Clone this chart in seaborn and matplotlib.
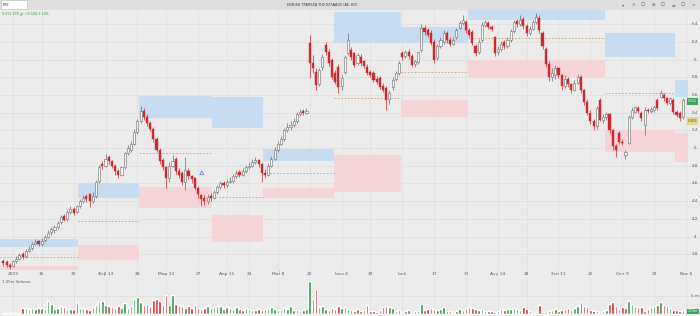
import numpy as np
import pandas as pd
import matplotlib
matplotlib.use("Agg")
import matplotlib.pyplot as plt
import matplotlib.transforms as mtransforms
from matplotlib.patches import Rectangle
import seaborn as sns

# ---------------- data ----------------
first_index = -3  # a few candles of late Dec 2022 before 2 Jan 2023

open_ = [
    3.72,3.71,3.68,3.67,3.72,3.75,3.80,3.78,3.84,3.87,
    3.92,3.95,3.91,3.96,4.00,4.05,4.07,4.11,4.16,4.23,
    4.20,4.28,4.31,4.28,4.34,4.40,4.46,4.48,4.40,4.46,
    4.63,4.82,4.80,4.90,4.85,4.80,4.74,4.70,4.78,4.94,
    4.98,5.05,5.18,5.30,5.42,5.35,5.28,5.22,5.10,4.98,
    4.86,4.78,4.66,4.80,4.88,4.74,4.72,4.62,4.74,4.68,
    4.66,4.55,4.47,4.43,4.40,4.46,4.44,4.50,4.56,4.61,
    4.58,4.62,4.63,4.68,4.73,4.70,4.74,4.78,4.80,4.84,
    4.87,4.82,4.72,4.70,4.80,4.88,4.98,5.05,5.10,5.20,
    5.24,5.26,5.30,5.38,5.42,5.40,6.19,5.96,5.86,5.72,
    5.92,6.16,6.08,5.99,5.85,5.92,5.70,5.86,6.07,6.11,
    6.07,5.96,6.03,5.98,5.92,5.86,5.85,5.78,5.79,5.70,
    5.68,5.55,5.69,5.78,5.85,6.07,6.04,6.09,6.04,5.95,
    5.97,6.11,6.36,6.33,6.30,6.20,6.02,6.15,6.20,6.30,
    6.22,6.18,6.25,6.36,6.41,6.42,6.33,6.31,6.15,6.08,
    6.22,6.39,6.41,6.37,6.25,6.08,6.12,6.20,6.15,6.22,
    6.32,6.43,6.40,6.46,6.38,6.30,6.35,6.42,6.47,6.30,
    6.12,5.95,5.80,5.82,5.90,5.82,5.70,5.78,5.72,5.66,
    5.74,5.80,5.65,5.52,5.40,5.30,5.25,5.54,5.32,5.35,
    5.38,5.20,5.02,5.17,5.07,4.92,5.06,5.35,5.41,5.45,
    5.40,5.26,5.43,5.42,5.43,5.54,5.58,5.60,5.56,5.51,
    5.54,5.41,5.40,5.35,
]
high_ = [
    3.75,3.73,3.70,3.74,3.78,3.81,3.82,3.86,3.89,3.94,
    3.97,3.96,3.98,4.02,4.07,4.11,4.13,4.18,4.24,4.25,
    4.30,4.34,4.33,4.36,4.42,4.47,4.48,4.49,4.50,4.64,
    4.81,4.85,4.93,4.92,4.87,4.82,4.76,4.80,4.96,5.03,
    5.08,5.21,5.33,5.48,5.45,5.38,5.31,5.24,5.12,5.00,
    4.89,4.80,4.84,4.92,4.90,4.77,4.74,4.90,4.77,4.70,
    4.67,4.57,4.48,4.47,4.48,4.49,4.53,4.58,4.63,4.63,
    4.65,4.67,4.71,4.75,4.75,4.77,4.81,4.84,4.88,4.90,
    4.88,4.83,4.76,4.83,4.91,5.01,5.08,5.14,5.23,5.28,
    5.30,5.34,5.41,5.44,5.44,5.45,6.28,6.05,5.90,5.90,
    6.06,6.20,6.12,6.02,5.88,5.95,5.82,6.05,6.30,6.14,
    6.09,6.07,6.06,6.00,5.95,5.88,5.87,5.81,5.81,5.73,
    5.70,5.65,5.80,5.87,5.98,6.10,6.11,6.12,6.06,6.00,
    6.10,6.40,6.39,6.36,6.33,6.23,6.18,6.25,6.33,6.32,
    6.25,6.25,6.36,6.44,6.50,6.45,6.36,6.33,6.18,6.23,
    6.42,6.45,6.43,6.39,6.27,6.15,6.21,6.22,6.25,6.35,
    6.45,6.46,6.50,6.48,6.40,6.38,6.45,6.52,6.50,6.32,
    6.14,5.98,5.90,5.94,5.92,5.84,5.82,5.80,5.74,5.77,
    5.84,5.82,5.67,5.55,5.43,5.33,5.48,5.57,5.38,5.41,
    5.40,5.22,5.05,5.19,5.10,4.98,5.37,5.46,5.48,5.47,
    5.42,5.46,5.45,5.46,5.48,5.57,5.65,5.62,5.58,5.58,
    5.56,5.43,5.42,5.57,
]
low_ = [
    3.67,3.65,3.63,3.65,3.70,3.73,3.75,3.76,3.82,3.85,
    3.90,3.89,3.89,3.94,3.98,4.02,4.04,4.09,4.14,4.17,
    4.18,4.25,4.24,4.26,4.32,4.38,4.39,4.33,4.38,4.44,
    4.60,4.76,4.78,4.82,4.77,4.70,4.66,4.68,4.76,4.92,
    4.95,5.03,5.16,5.28,5.32,5.25,5.19,5.07,4.95,4.82,
    4.75,4.55,4.62,4.78,4.71,4.66,4.58,4.52,4.65,4.60,
    4.52,4.44,4.35,4.36,4.37,4.40,4.42,4.48,4.54,4.55,
    4.56,4.60,4.61,4.66,4.67,4.68,4.72,4.76,4.78,4.82,
    4.79,4.62,4.66,4.68,4.78,4.86,4.96,5.03,5.08,5.18,
    5.20,5.24,5.28,5.36,5.37,5.38,5.79,5.85,5.66,5.70,
    5.88,6.05,5.93,5.78,5.72,5.62,5.66,5.84,6.05,6.00,
    5.91,5.94,5.93,5.90,5.83,5.80,5.75,5.72,5.67,5.63,
    5.43,5.50,5.66,5.76,5.83,6.00,6.02,6.01,5.91,5.92,
    5.95,6.09,6.28,6.25,6.16,5.96,6.00,6.13,6.18,6.19,
    6.15,6.16,6.23,6.34,6.39,6.30,6.25,6.16,6.04,6.06,
    6.20,6.37,6.34,6.32,6.04,6.05,6.10,6.12,6.13,6.20,
    6.30,6.37,6.38,6.35,6.27,6.28,6.33,6.40,6.30,6.12,
    5.92,5.76,5.76,5.78,5.79,5.66,5.68,5.69,5.62,5.64,
    5.72,5.62,5.49,5.37,5.27,5.20,5.22,5.30,5.28,5.32,
    5.17,4.98,4.90,5.04,5.03,4.88,5.04,5.33,5.39,5.39,
    5.31,5.15,5.39,5.40,5.41,5.43,5.56,5.53,5.49,5.49,
    5.38,5.35,5.31,5.33,
]
close_ = [
    3.70,3.68,3.66,3.72,3.75,3.79,3.77,3.84,3.86,3.92,
    3.94,3.91,3.95,4.00,4.04,4.08,4.11,4.15,4.22,4.19,
    4.28,4.31,4.27,4.34,4.40,4.44,4.42,4.40,4.46,4.62,
    4.78,4.80,4.88,4.85,4.80,4.74,4.70,4.78,4.94,5.00,
    5.05,5.18,5.30,5.42,5.35,5.28,5.22,5.10,4.98,4.85,
    4.78,4.66,4.80,4.85,4.74,4.70,4.62,4.75,4.68,4.65,
    4.55,4.48,4.42,4.40,4.45,4.44,4.50,4.56,4.60,4.58,
    4.62,4.63,4.68,4.72,4.70,4.74,4.78,4.80,4.84,4.86,
    4.82,4.72,4.70,4.80,4.88,4.98,5.05,5.10,5.20,5.24,
    5.26,5.30,5.38,5.41,5.40,5.42,5.96,5.90,5.71,5.88,
    6.03,6.08,5.96,5.80,5.75,5.69,5.79,6.03,6.22,6.03,
    5.94,6.05,5.96,5.93,5.85,5.83,5.77,5.75,5.69,5.66,
    5.54,5.62,5.77,5.85,5.96,6.03,6.08,6.04,5.94,5.98,
    6.08,6.36,6.31,6.28,6.19,5.99,6.15,6.22,6.30,6.22,
    6.18,6.22,6.33,6.41,6.45,6.33,6.28,6.19,6.07,6.20,
    6.39,6.42,6.37,6.35,6.07,6.12,6.18,6.15,6.22,6.32,
    6.42,6.40,6.45,6.38,6.30,6.35,6.42,6.48,6.33,6.15,
    5.95,5.80,5.85,5.90,5.82,5.70,5.78,5.72,5.66,5.74,
    5.80,5.65,5.52,5.40,5.30,5.25,5.45,5.32,5.35,5.38,
    5.20,5.02,4.98,5.07,5.06,4.95,5.35,5.43,5.46,5.42,
    5.34,5.43,5.42,5.44,5.46,5.45,5.62,5.56,5.51,5.56,
    5.41,5.37,5.34,5.54,
]
volume_m = [
    0.2,0.3,0.2,0.5,0.3,0.4,1.6,1.8,1.5,1.7,
    1.4,1.6,1.8,1.5,3.7,2.8,1.4,1.8,2.2,2.0,
    1.2,1.5,1.3,3.2,1.6,1.8,1.4,1.2,2.0,2.5,
    3.4,3.6,2.4,2.2,2.0,1.7,2.2,1.6,3.0,1.8,
    2.2,4.2,4.6,3.2,2.5,2.8,2.2,3.8,4.2,3.6,
    2.4,5.2,2.4,5.2,2.8,2.4,2.2,1.8,2.2,1.6,
    2.4,1.8,1.4,1.8,2.2,1.6,2.0,2.3,2.2,1.4,
    2.0,1.7,1.5,1.9,1.4,1.2,1.6,1.3,1.1,1.2,
    1.5,1.0,1.4,1.8,2.0,1.4,1.2,1.0,1.6,1.4,
    2.2,1.2,1.0,0.8,1.2,1.4,9.2,4.2,6.9,2.0,
    2.2,1.4,1.2,1.8,1.4,2.2,1.6,2.0,1.5,1.1,
    0.8,1.4,0.9,1.0,2.6,0.8,0.9,0.6,1.1,2.0,
    2.3,2.0,1.7,0.9,1.1,0.6,0.8,1.1,0.6,0.7,
    0.8,2.8,1.1,1.4,1.7,1.4,1.1,1.4,1.9,0.9,
    0.7,0.6,0.9,1.4,1.1,1.7,1.9,1.7,1.4,1.1,
    1.4,0.9,0.7,0.9,0.6,0.7,1.4,1.1,1.4,1.3,
    1.7,1.4,1.1,1.9,1.4,0.7,0.6,0.5,2.6,0.6,
    0.5,0.7,1.1,1.4,0.9,1.1,1.4,1.7,1.1,1.7,
    2.3,3.2,2.3,1.9,1.1,0.9,0.7,0.6,0.9,1.1,
    2.8,3.2,2.3,1.4,1.9,1.6,3.7,2.8,2.3,2.0,
    1.9,0.9,1.4,1.9,2.3,2.6,3.2,2.6,2.3,1.7,
    1.1,1.1,0.9,1.1,
]

tick_index = [0, 9, 19, 29, 39, 48, 58, 67, 74, 83, 93, 103, 112, 122,
              132, 142, 152, 161, 171, 181, 191, 201, 211]
tick_labels = ["2023", "16", "30", "Φεβ 13", "28", "Μαρ 13", "27", "Απρ 11",
               "24", "Μαΐ 8", "22", "Ιουν 6", "19", "Ιουλ", "17", "31",
               "Αυγ 14", "28", "Σεπ 11", "25", "Οκτ 9", "23", "Νοε 6"]

price_ticks = [3.8, 4.0, 4.2, 4.4, 4.6, 4.8, 5.0, 5.2, 5.4, 5.6, 5.8, 6.0, 6.2, 6.4]

# monthly zones (start/end in candle index, price bounds)
zone_start = [-4.2, 20.5, 39.5, 62.5, 78.5, 100.5, 121.5, 142.5, 164.5, 185.5, 207.5]
zone_end = [20.5, 39.5, 62.5, 78.5, 100.5, 121.5, 142.5, 164.5, 185.5, 207.5, 211.6]
blue_low = [3.88, 4.44, 5.34, 5.23, 4.85, 6.19, 6.19, 6.45, 6.45, 6.03, 5.58]
blue_high = [3.97, 4.60, 5.59, 5.58, 4.99, 6.54, 6.37, 6.57, 6.57, 6.30, 5.77]
pink_low = [3.60, 3.73, 4.32, 3.94, 4.44, 4.50, 5.35, 5.80, 5.80, 4.95, 4.84]
pink_high = [3.67, 3.90, 4.56, 4.24, 4.55, 4.92, 5.54, 5.99, 5.99, 5.20, 5.17]
mid_level = [3.77, 4.175, 4.94, 4.45, 4.72, 5.56, 5.86, 6.24, 6.24, 5.62, np.nan]

last_price_label = "5.552"
ma_label = "5.305"
ma_value = 5.305
last_value = 5.53

# ---------------- styling ----------------
sns.set_theme(style="white")
plt.rcParams["font.family"] = ["DejaVu Sans"]

BG = "#ebebeb"
GRID = "#dedede"
RED = "#d3272b"
GREEN = "#2e9b3f"
TXT = "#5a5a5a"

W, H = 700, 316
fig = plt.figure(figsize=(7, 3.16), dpi=100, facecolor=BG)
px = 13.0      # pixel x of index 0
step = 3.19    # pixels per candle
x0 = -px / step
x1 = (W - px) / step

ax = fig.add_axes([0, 46 / H, 1, 260 / H])
axv = fig.add_axes([0, 0, 1, 38 / H])
for a in (ax, axv):
    a.set_facecolor(BG)
    for s in a.spines.values():
        s.set_visible(False)

o = np.array(open_); h = np.array(high_); l = np.array(low_); c = np.array(close_)
n = len(c)
assert len(o) == n and len(h) == n and len(l) == n and len(volume_m) == n
idx = np.arange(first_index, first_index + n)

# zones
for s, e, bl, bh, pl, ph, m in zip(zone_start, zone_end, blue_low, blue_high,
                                    pink_low, pink_high, mid_level):
    ax.add_patch(Rectangle((s, bl), e - s, bh - bl, facecolor="#c8dcf1",
                           edgecolor="none", zorder=1))
    ax.add_patch(Rectangle((s, pl), e - s, ph - pl, facecolor="#f4d4d7",
                           edgecolor="none", zorder=1))
    if not np.isnan(m):
        ax.plot([s, e], [m, m], color="#c4a46a", lw=0.6, ls=(0, (2, 2)), zorder=2)

# candles
up = c >= o
body_lo = np.minimum(o, c)
body_h = np.maximum(np.abs(c - o), 0.006)
wick_col = np.where(up, "#6a6a6a", RED)
ax.vlines(idx, l, h, colors=wick_col, lw=0.5, zorder=3)
ax.bar(idx[up], body_h[up], bottom=body_lo[up], width=0.66, color="#f7f7f7",
       edgecolor="#6a6a6a", linewidth=0.4, zorder=4)
ax.bar(idx[~up], body_h[~up], bottom=body_lo[~up], width=0.66, color=RED,
       edgecolor=RED, linewidth=0.3, zorder=4)

# small triangle marker
sns.scatterplot(x=[59.2], y=[4.72], marker="^", s=8, facecolor="none",
                edgecolor="#4a7fd0", linewidth=0.5, ax=ax, zorder=5)

ax.set_xlim(x0, x1)
ax.set_ylim(5 - 122 / 88.5, 5 + 138 / 88.5)
ax.set_xticks(tick_index)
ax.set_xticklabels(tick_labels)
ax.set_yticks(price_ticks)
ax.tick_params(axis="x", length=0, pad=1.6, labelsize=3.2, colors=TXT)
ax.tick_params(axis="y", length=0, labelleft=False, labelright=False)
ax.grid(True, color=GRID, lw=0.5, zorder=0)
ax.set_axisbelow(True)

trans = mtransforms.blended_transform_factory(ax.transAxes, ax.transData)
for v in price_ticks:
    lab = f"{v:.1f}".rstrip("0").rstrip(".")
    ax.text(695 / W, v, lab, transform=trans, ha="center", va="center",
            fontsize=3.0, color=TXT, zorder=6)

# price tags
ax.add_patch(Rectangle((687 / W, last_value - 0.04), 11 / W, 0.08, transform=trans,
                       facecolor="#3aa35a", edgecolor="none", zorder=7, clip_on=False))
ax.text(692.5 / W, last_value, last_price_label, transform=trans, ha="center",
        va="center", fontsize=2.4, color="white", zorder=8)
ax.add_patch(Rectangle((687 / W, ma_value - 0.04), 11 / W, 0.08, transform=trans,
                       facecolor="#e6d491", edgecolor="none", zorder=7, clip_on=False))
ax.text(692.5 / W, ma_value, ma_label, transform=trans, ha="center",
        va="center", fontsize=2.4, color="#5a4a10", zorder=8)

# volume pane
prev = np.concatenate([[o[0]], c[:-1]])
vdf = pd.DataFrame({"i": idx, "vol": volume_m,
                    "dir": np.where(c >= prev, "up", "down")})
sns.barplot(data=vdf, x="i", y="vol", hue="dir", native_scale=True, dodge=False,
            width=0.78, palette={"up": GREEN, "down": RED}, saturation=1,
            errorbar=None, legend=False, ax=axv, zorder=3)
axv.set_xlim(x0, x1)
axv.set_ylim(-2 / 3.6, 36 / 3.6)
axv.set_xticks(tick_index)
axv.set_yticks([5])
axv.tick_params(axis="both", length=0, labelbottom=False, labelleft=False)
axv.set_xlabel(""); axv.set_ylabel("")
axv.grid(True, color=GRID, lw=0.5, zorder=0)
axv.set_axisbelow(True)
vtrans = mtransforms.blended_transform_factory(axv.transAxes, axv.transData)
axv.text(695 / W, 5, "5 m", transform=vtrans, ha="center", va="center",
         fontsize=3.0, color=TXT)
axv.text(2 / W, 9.0, "1.35m Volume", transform=vtrans, ha="left", va="center",
         fontsize=2.8, color=TXT)
axv.add_patch(Rectangle((687 / W, 0.1), 12 / W, 1.4, transform=vtrans,
                        facecolor="#3aa35a", edgecolor="none", zorder=7, clip_on=False))
axv.text(693 / W, 0.8, "1.59m", transform=vtrans, ha="center", va="center",
         fontsize=2.3, color="white", zorder=8)

# top toolbar
fig.patches.append(Rectangle((0, 1 - 9.5 / H), 1, 9.5 / H, transform=fig.transFigure,
                             facecolor="#dedede", edgecolor="none", zorder=0))
fig.patches.append(Rectangle((0.5 / W, 1 - 9 / H), 26 / W, 8.5 / H, transform=fig.transFigure,
                             facecolor="white", edgecolor="#bdbdbd", lw=0.4, zorder=1))
fig.text(3 / W, 1 - 4.8 / H, "ETE", fontsize=2.6, va="center", color="#333333")
fig.text(322 / W, 1 - 4.8 / H, "ΕΘΝΙΚΗ ΤΡΑΠΕΖΑ ΤΗΣ ΕΛΛΑΔΟΣ (ΑΕ, ΚΟ)", fontsize=2.4,
         ha="center", va="center", color="#333333")
icons = ["▾", "✕", "□", "⊕", "□", "≡", "□", "×"]
for k, g in enumerate(icons):
    fig.text((623 + k * 10) / W, 1 - 4.8 / H, g, fontsize=3.2, ha="center",
             va="center", color="#666666")
fig.text(2 / W, 1 - 14 / H, "5.552 ETE.gr +0.168 3.10%", fontsize=2.4,
         va="center", color="#3a9a3a")

fig.savefig("out.png", dpi=100, facecolor=BG)
